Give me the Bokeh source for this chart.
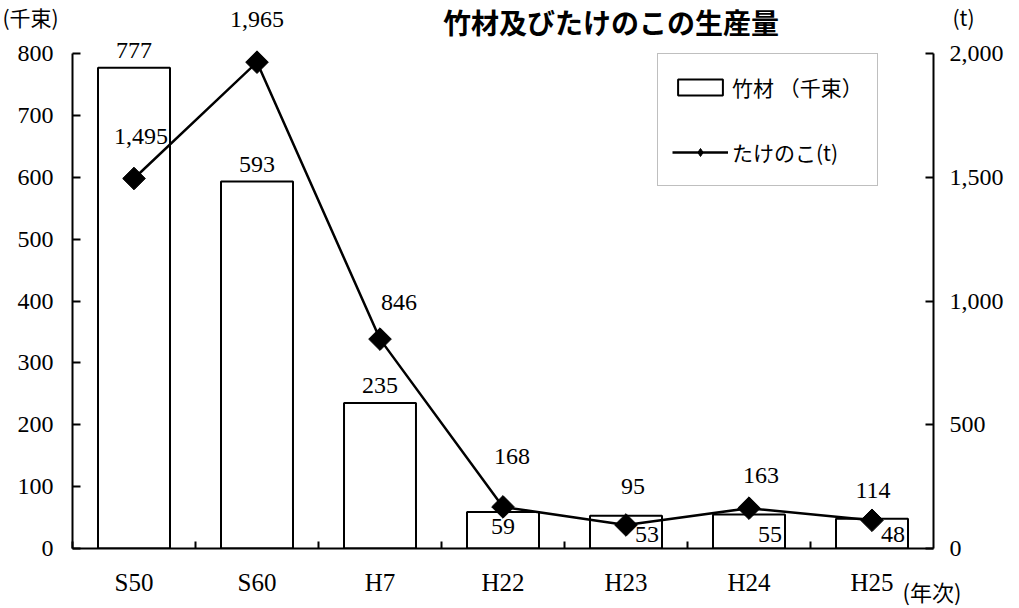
import numpy as np
from bokeh.plotting import figure
from bokeh.models import (ColumnDataSource, Range1d, LinearAxis, FixedTicker,
                          NumeralTickFormatter, Legend, LegendItem)
from bokeh.core.properties import value
from bokeh.embed import file_html
from bokeh.resources import INLINE

# ---------------- data ----------------
categories = ["S50", "S60", "H7", "H22", "H23", "H24", "H25"]
bamboo = [777, 593, 235, 59, 53, 55, 48]            # 竹材 (千束)
shoots = [1495, 1965, 846, 168, 95, 163, 114]       # たけのこ (t)
left_ticks = [0, 100, 200, 300, 400, 500, 600, 700, 800]
right_ticks = [0, 500, 1000, 1500, 2000]

title_text = "竹材及びたけのこの生産量"
bamboo_name = "竹材 （千束）"
shoots_name = "たけのこ(t)"
left_unit = "(千束)"
right_unit = "(t)"
x_unit = "(年次)"

# ---------------- styles ----------------
SERIF = "Liberation Serif"
JP = "Noto Sans CJK JP"
NUM_SIZE = "24px"
BW = 0.585
line_dx = [7, 0, 19, 9, 7, 12, 1]
line_dy = [30, 31, 25, 39, 27, 21, 18]
bar_style = ["above", "above", "above", "inside", "base", "base", "base"]
SHIFT = -4  # fine vertical correction for bottom-anchored labels

n = len(categories)
xs = [i + 0.5 for i in range(n)]

p = figure(width=1019, height=608, output_backend="svg", toolbar_location=None,
           x_range=Range1d(0, n), y_range=Range1d(left_ticks[0], left_ticks[-1]),
           min_border_left=72, min_border_right=86, min_border_top=53,
           min_border_bottom=60)
p.extra_y_ranges = {"right": Range1d(right_ticks[0], right_ticks[-1])}
p.outline_line_color = None
p.xgrid.visible = False
p.ygrid.visible = False
p.background_fill_color = "white"
p.border_fill_color = "white"

bar_src = ColumnDataSource(dict(x=xs, top=bamboo))
bars = p.vbar(x="x", top="top", bottom=0, width=BW, source=bar_src,
              fill_color="white", line_color="black", line_width=2)

line_src = ColumnDataSource(dict(x=xs, y=shoots))
line_r = p.line(x="x", y="y", source=line_src, y_range_name="right",
                line_color="black", line_width=2.5)
# tiny diamond renderer (hidden under the big markers) gives the legend a diamond key
key_r = p.scatter(x="x", y="y", source=line_src, y_range_name="right",
                  marker="diamond", size=1, fill_color="black", line_color="black")
pts_r = p.scatter(x="x", y="y", source=line_src, y_range_name="right",
                  marker="square", angle=np.pi / 4, size=16,
                  fill_color="black", line_color="black", level="overlay")

# ---------------- axes ----------------
ya = p.yaxis[0]
ya.ticker = FixedTicker(ticks=left_ticks)
ya.major_tick_in = 8
ya.major_tick_out = 0
ya.minor_tick_in = 0
ya.minor_tick_out = 0
ya.axis_line_width = 2
ya.major_tick_line_width = 2
ya.major_label_text_font = SERIF
ya.major_label_text_font_size = NUM_SIZE
ya.major_label_text_color = "black"
ya.major_label_standoff = 19

ra = LinearAxis(y_range_name="right", ticker=FixedTicker(ticks=right_ticks),
                formatter=NumeralTickFormatter(format="0,0"))
ra.major_tick_in = 8
ra.major_tick_out = 0
ra.minor_tick_in = 0
ra.minor_tick_out = 0
ra.axis_line_width = 2
ra.major_tick_line_width = 2
ra.major_label_text_font = SERIF
ra.major_label_text_font_size = NUM_SIZE
ra.major_label_text_color = "black"
ra.major_label_standoff = 16
p.add_layout(ra, "right")

xa = p.xaxis[0]
xa.ticker = FixedTicker(ticks=xs, minor_ticks=list(range(n)))
xa.major_label_overrides = {x: c for x, c in zip(xs, categories)}
xa.major_tick_in = 0
xa.major_tick_out = 0
xa.minor_tick_in = 7
xa.minor_tick_out = 0
xa.minor_tick_line_width = 2
xa.axis_line_width = 2
xa.major_label_text_font = SERIF
xa.major_label_text_font_size = "25px"
xa.major_label_text_color = "black"
xa.major_label_standoff = 20

TXT = dict(text_font=value(SERIF), text_font_size=value(NUM_SIZE),
           text_color="black", level="overlay")

# ---------------- data labels (text glyphs, not clipped) ----------------
lab_src = ColumnDataSource(dict(x=xs, y=shoots, text=[f"{v:,}" for v in shoots],
                                dx=line_dx, dy=[SHIFT - d for d in line_dy]))
p.text(x="x", y="y", text="text", source=lab_src, y_range_name="right",
       x_offset="dx", y_offset="dy", text_align="center",
       text_baseline="bottom", **TXT)

idx_above = [i for i, s in enumerate(bar_style) if s == "above"]
idx_inside = [i for i, s in enumerate(bar_style) if s == "inside"]
idx_base = [i for i, s in enumerate(bar_style) if s == "base"]

src_a = ColumnDataSource(dict(x=[xs[i] for i in idx_above], y=[bamboo[i] for i in idx_above],
                              text=[str(bamboo[i]) for i in idx_above]))
p.text(x="x", y="y", text="text", source=src_a, y_offset=SHIFT - 6,
       text_align="center", text_baseline="bottom", **TXT)
src_i = ColumnDataSource(dict(x=[xs[i] for i in idx_inside], y=[bamboo[i] for i in idx_inside],
                              text=[str(bamboo[i]) for i in idx_inside]))
p.text(x="x", y="y", text="text", source=src_i, y_offset=7,
       text_align="center", text_baseline="top", **TXT)
src_b = ColumnDataSource(dict(x=[xs[i] + BW / 2 for i in idx_base], y=[0 for i in idx_base],
                              text=[str(bamboo[i]) for i in idx_base]))
p.text(x="x", y="y", text="text", source=src_b, x_offset=-3, y_offset=SHIFT - 3,
       text_align="right", text_baseline="bottom", **TXT)

# ---------------- titles / units ----------------
top = left_ticks[-1]
p.text(x=[n / 2], y=[top], text=[title_text], x_offset=108, y_offset=-52,
       text_align="center", text_baseline="top", text_font=value(JP),
       text_font_size=value("28px"), text_font_style="bold", text_color="black",
       level="overlay")
p.text(x=[0], y=[top], text=[left_unit], x_offset=-42, y_offset=-52,
       text_align="center", text_baseline="top", text_font=value(JP),
       text_font_size=value("21px"), text_color="black", level="overlay")
p.text(x=[n], y=[top], text=[right_unit], x_offset=30, y_offset=-52,
       text_align="center", text_baseline="top", text_font=value(JP),
       text_font_size=value("21px"), text_color="black", level="overlay")
p.text(x=[n], y=[0], text=[x_unit], x_offset=-31, y_offset=58,
       text_align="left", text_baseline="bottom", text_font=value(JP),
       text_font_size=value("22px"), text_color="black", level="overlay")

# ---------------- legend ----------------
legend = Legend(items=[LegendItem(label=bamboo_name, renderers=[bars]),
                       LegendItem(label=shoots_name, renderers=[line_r, key_r])],
                location=(585, 362), margin=0, padding=14, spacing=27,
                glyph_width=56, glyph_height=20, label_height=38, label_standoff=4,
                label_text_font=JP, label_text_font_size="21px",
                label_text_color="black",
                border_line_color="#808080", border_line_width=1,
                background_fill_color="white", background_fill_alpha=1.0)
p.add_layout(legend)

open("out.html", "w").write(file_html(p, INLINE))
